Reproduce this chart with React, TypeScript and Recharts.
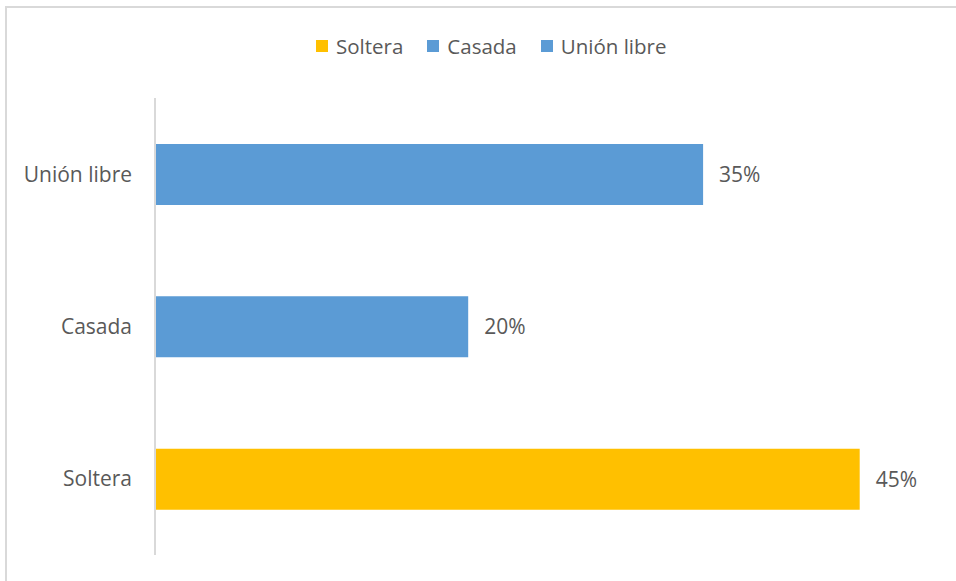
import React, { FC } from 'react';
import { BarChart, Bar, XAxis, YAxis, Cell, LabelList, Legend } from 'recharts';

interface Row {
  name: string;
  value: number;
}

const categories = ['Soltera', 'Casada', 'Unión libre'];
const values = [0.45, 0.2, 0.35];
const colors = ['#FFC000', '#5B9BD5', '#5B9BD5'];

const data: Row[] = categories.map((name, i) => ({ name, value: values[i] }));

const font = '"Open Sans", sans-serif';
const textColor = '#595959';

const LegendBox: FC = () => (
  <div style={{ display: 'flex', alignItems: 'center', fontFamily: font, fontSize: 20.5, lineHeight: '24px', height: 24, color: textColor }}>
    {categories.map((c, i) => (
      <div key={c} style={{ display: 'flex', alignItems: 'center', marginRight: 24 }}>
        <span style={{ width: 12, height: 12, background: colors[i], display: 'inline-block', marginRight: 8 }} />
        <span>{c}</span>
      </div>
    ))}
  </div>
);

const App: FC = () => {
  return (
    <div style={{ position: 'absolute', top: 0, left: 0, width: 956, height: 581, overflow: 'hidden', background: '#fff' }}>
      {/* chart frame, only the top and left edges show in the picture */}
      <div style={{ position: 'absolute', top: 6, left: 5, width: 1100, height: 700, border: '2px solid #d9d9d9' }} />
      <div style={{ position: 'absolute', top: 0, left: 0 }}>
        <BarChart
          width={1000}
          height={581}
          data={data}
          layout="vertical"
          margin={{ top: 74, right: 62, bottom: 26, left: 0 }}
          barSize={61}
        >
          <XAxis type="number" domain={[0, 0.5]} hide />
          <YAxis
            type="category"
            dataKey="name"
            reversed
            width={155}
            tickLine={false}
            tickSize={0}
            tickMargin={23}
            axisLine={{ stroke: '#d9d9d9', strokeWidth: 2 }}
            tick={{ fill: textColor, fontSize: 21, fontFamily: font }}
          />
          <Legend
            verticalAlign="top"
            content={() => <LegendBox />}
            wrapperStyle={{ position: 'absolute', top: 34, left: 316, width: 'auto', height: 24 }}
          />
          <Bar dataKey="value" isAnimationActive={false}>
            {data.map((entry, index) => (
              <Cell key={`cell-${index}`} fill={colors[index]} />
            ))}
            <LabelList
              dataKey="value"
              position="right"
              offset={16}
              formatter={(v: any) => `${Math.round(Number(v) * 100)}%`}
              style={{ fill: textColor, fontSize: 21, fontFamily: font }}
            />
          </Bar>
        </BarChart>
      </div>
    </div>
  );
};

export default App;
